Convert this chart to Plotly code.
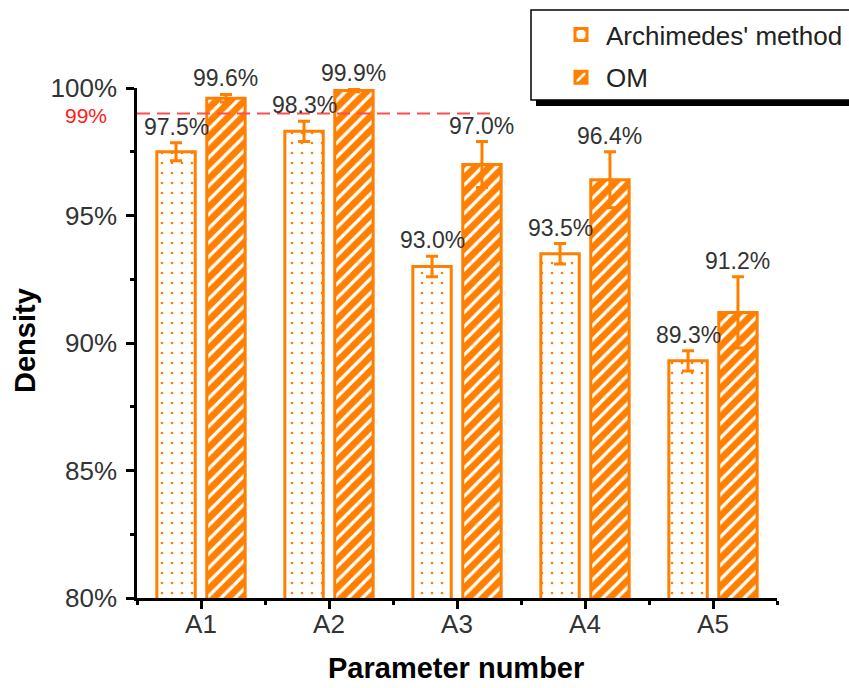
import plotly.graph_objects as go

# ---- data -------------------------------------------------------------
categories = ["A1", "A2", "A3", "A4", "A5"]
archimedes = [97.5, 98.3, 93.0, 93.5, 89.3]
archimedes_err = [0.35, 0.4, 0.4, 0.4, 0.4]
om = [99.6, 99.9, 97.0, 96.4, 91.2]
om_err = [0.15, 0.05, 0.9, 1.1, 1.4]
y_ticks = [80, 85, 90, 95, 100]
threshold = 99

# ---- style ------------------------------------------------------------
ORANGE = "#FF8000"
TEXT = "#333333"
FONT = "Liberation Sans, Arial, sans-serif"
W, H = 849, 688
M_L, M_R, M_T, M_B = 137, 72, 88, 90
BAR_W = 0.3
OFFSETS = (-0.345, 0.045)


def px_x(px):
    """figure pixel x -> paper x"""
    return (px - M_L) / (W - M_L - M_R)


def px_y(px):
    """figure pixel y (from top) -> paper y"""
    return (H - M_B - px) / (H - M_T - M_B)


x = list(range(len(categories)))

fig = go.Figure()

fig.add_bar(
    x=x, y=archimedes, name="Archimedes' method", legendgroup="arch",
    width=BAR_W, offset=OFFSETS[0],
    marker=dict(
        color="white",
        line=dict(color=ORANGE, width=3),
        pattern=dict(shape=".", fgcolor=ORANGE, bgcolor="white",
                     size=10, solidity=0.055, fillmode="replace"),
    ),
    error_y=dict(type="data", array=archimedes_err, color=ORANGE,
                 thickness=3, width=6),
)
fig.add_bar(
    x=x, y=om, name="OM", legendgroup="om",
    width=BAR_W, offset=OFFSETS[1],
    marker=dict(
        color=ORANGE,
        line=dict(color=ORANGE, width=3),
        pattern=dict(shape="/", fgcolor="white", bgcolor=ORANGE,
                     size=10, solidity=0.32, fillmode="replace"),
    ),
    error_y=dict(type="data", array=om_err, color=ORANGE,
                 thickness=3, width=6),
)

# value labels sitting on top of each error bar
annotations = []
for vals, errs, off in ((archimedes, archimedes_err, OFFSETS[0]),
                        (om, om_err, OFFSETS[1])):
    for i, (v, e) in enumerate(zip(vals, errs)):
        annotations.append(dict(
            x=x[i] + off + BAR_W / 2, y=v + e, xref="x", yref="y",
            text=f"{v:.1f}%", showarrow=False, yanchor="bottom", yshift=1,
            font=dict(family=FONT, size=23, color=TEXT),
        ))

# threshold label
annotations.append(dict(
    x=px_x(109), y=threshold, xref="paper", yref="y",
    xanchor="right", yanchor="middle", yshift=-2,
    text=f"{threshold}%", showarrow=False,
    font=dict(family=FONT, size=21, color="#FF1A1A"),
))

# axis titles
annotations.append(dict(
    x=px_x(456), y=px_y(668), xref="paper", yref="paper",
    xanchor="center", yanchor="middle",
    text="<b>Parameter number</b>", showarrow=False,
    font=dict(family=FONT, size=29, color="black"),
))
annotations.append(dict(
    x=px_x(25), y=px_y(341), xref="paper", yref="paper", textangle=-90,
    xanchor="center", yanchor="middle",
    text="<b>Density</b>", showarrow=False,
    font=dict(family=FONT, size=29, color="black"),
))

shapes = [
    # dashed threshold line
    dict(type="line", xref="paper", yref="y", x0=0, x1=px_x(497),
         y0=threshold, y1=threshold, layer="above",
         line=dict(color="#FF4D4D", width=2, dash="13px,7px")),
    # legend drop shadow and frame
    dict(type="rect", xref="paper", yref="paper",
         x0=px_x(536), x1=px_x(870), y0=px_y(106), y1=px_y(15),
         fillcolor="black", line=dict(width=0), layer="above"),
    dict(type="rect", xref="paper", yref="paper",
         x0=px_x(531), x1=px_x(870), y0=px_y(100), y1=px_y(10),
         fillcolor="white", line=dict(color="black", width=1.5), layer="above"),
]

fig.update_layout(
    width=W, height=H,
    margin=dict(l=M_L, r=M_R, t=M_T, b=M_B, autoexpand=False),
    paper_bgcolor="white", plot_bgcolor="white",
    barmode="overlay",
    font=dict(family=FONT, color=TEXT),
    showlegend=True,
    legend=dict(
        x=px_x(556), y=px_y(11), xanchor="left", yanchor="top",
        bgcolor="rgba(0,0,0,0)", borderwidth=0,
        font=dict(family=FONT, size=26, color="#222222"),
        traceorder="grouped", tracegroupgap=6,
        itemwidth=40,
    ),
    annotations=annotations,
    shapes=shapes,
)

fig.update_xaxes(
    range=[-0.5, len(categories) - 0.5],
    tickmode="array", tickvals=x, ticktext=categories,
    showline=True, linecolor="black", linewidth=2.5,
    ticks="outside", ticklen=8, tickwidth=2.5, tickcolor="black",
    tickfont=dict(family=FONT, size=26, color=TEXT),
    ticklabelstandoff=-7,
    minor=dict(ticks="outside", tick0=0.5, dtick=1, ticklen=4,
               tickwidth=2.5, tickcolor="black"),
    showgrid=False, zeroline=False, fixedrange=True,
)
fig.update_yaxes(
    range=[y_ticks[0], y_ticks[-1]],
    tickmode="array", tickvals=y_ticks,
    ticktext=[f"{t}%" for t in y_ticks],
    showline=True, linecolor="black", linewidth=2.5,
    ticks="outside", ticklen=8, tickwidth=2.5, tickcolor="black",
    tickfont=dict(family=FONT, size=26, color=TEXT),
    ticklabelstandoff=4,
    minor=dict(ticks="outside", tick0=82.5, dtick=5, ticklen=4,
               tickwidth=2.5, tickcolor="black"),
    showgrid=False, zeroline=False, fixedrange=True,
)

fig.write_html("out.html")
